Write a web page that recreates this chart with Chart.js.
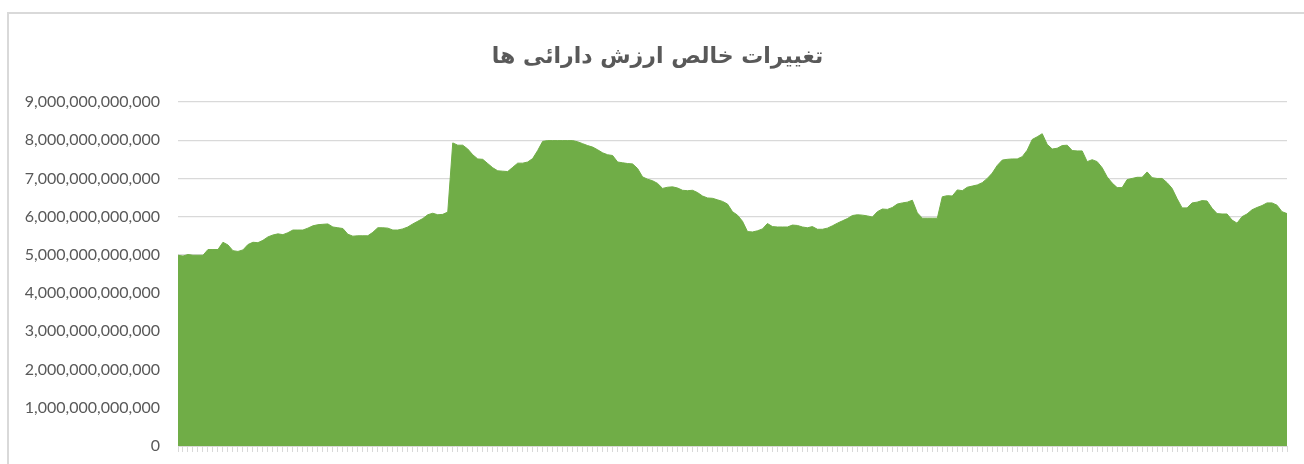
<!DOCTYPE html>
<html>
<head>
<meta charset="utf-8">
<script src="https://cdn.jsdelivr.net/npm/chart.js@4/dist/chart.umd.min.js"></script>
<style>
  html, body { margin: 0; padding: 0; background: #ffffff; width: 1304px; height: 464px; overflow: hidden; }
  #frame { position: absolute; left: 7px; top: 12px; width: 1320px; height: 500px; border: 2px solid #d9d9d9; box-sizing: border-box; }
  #c { position: absolute; left: 0; top: 0; }
</style>
</head>
<body>
<div id="frame"></div>
<canvas id="c" width="1304" height="464"></canvas>
<script>
// Chart title
const chartTitle = 'تغییرات خالص ارزش دارائی ها';

// Net asset value in trillions, one value per period
const netAssetTrillions = [
  4.99, 4.97, 5.01, 4.99, 4.99, 4.99, 5.14, 5.14, 5.14, 5.33,
  5.26, 5.11, 5.09, 5.13, 5.27, 5.33, 5.32, 5.38, 5.47, 5.52,
  5.55, 5.53, 5.58, 5.65, 5.65, 5.65, 5.70, 5.76, 5.79, 5.80,
  5.81, 5.73, 5.71, 5.69, 5.54, 5.49, 5.50, 5.50, 5.50, 5.59,
  5.71, 5.71, 5.70, 5.65, 5.65, 5.68, 5.73, 5.81, 5.88, 5.95,
  6.05, 6.09, 6.05, 6.06, 6.12, 7.93, 7.87, 7.87, 7.77, 7.62,
  7.51, 7.50, 7.39, 7.28, 7.20, 7.19, 7.18, 7.29, 7.40, 7.40,
  7.43, 7.52, 7.73, 7.97, 7.99, 7.99, 7.99, 7.99, 7.99, 7.99,
  7.96, 7.91, 7.86, 7.82, 7.75, 7.67, 7.62, 7.60, 7.43, 7.41,
  7.39, 7.38, 7.26, 7.04, 6.98, 6.94, 6.87, 6.74, 6.77, 6.78,
  6.75, 6.69, 6.68, 6.69, 6.63, 6.54, 6.49, 6.48, 6.44, 6.40,
  6.33, 6.13, 6.04, 5.88, 5.61, 5.60, 5.63, 5.68, 5.82, 5.74,
  5.73, 5.73, 5.73, 5.78, 5.77, 5.73, 5.71, 5.74, 5.67, 5.67,
  5.70, 5.76, 5.83, 5.89, 5.95, 6.03, 6.05, 6.04, 6.02, 5.99,
  6.13, 6.20, 6.19, 6.24, 6.33, 6.36, 6.38, 6.43, 6.10, 5.96,
  5.96, 5.96, 5.96, 6.52, 6.55, 6.54, 6.70, 6.68, 6.77, 6.80,
  6.83, 6.89, 7.00, 7.14, 7.34, 7.48, 7.50, 7.51, 7.51, 7.57,
  7.74, 8.02, 8.09, 8.17, 7.89, 7.77, 7.79, 7.86, 7.87, 7.73,
  7.72, 7.72, 7.44, 7.49, 7.44, 7.28, 7.04, 6.88, 6.76, 6.76,
  6.97, 7.00, 7.03, 7.03, 7.17, 7.02, 7.00, 7.00, 6.89, 6.74,
  6.47, 6.23, 6.23, 6.36, 6.38, 6.42, 6.41, 6.22, 6.08, 6.07,
  6.07, 5.91, 5.83, 6.00, 6.07, 6.18, 6.24, 6.29, 6.36, 6.36,
  6.30, 6.13, 6.08
];

// Categories: periods (unlabelled on the x axis)
const periods = netAssetTrillions.map((_, i) => String(i + 1));

// Y axis ticks
const yTickValues = [0, 1e12, 2e12, 3e12, 4e12, 5e12, 6e12, 7e12, 8e12, 9e12];

const netAssetValues = netAssetTrillions.map(v => v * 1e12);

new Chart(document.getElementById('c'), {
  type: 'line',
  data: {
    labels: periods,
    datasets: [{
      data: netAssetValues,
      backgroundColor: '#70ad47',
      borderColor: '#70ad47',
      borderWidth: 1,
      fill: 'origin',
      pointRadius: 0,
      tension: 0,
      yAxisID: 'y'
    }]
  },
  options: {
    responsive: false,
    animation: false,
    devicePixelRatio: 1,
    layout: { padding: { left: 14, right: 3, top: 0, bottom: 0 } },
    plugins: {
      legend: { display: false },
      tooltip: { enabled: false },
      title: {
        display: true,
        text: chartTitle,
        color: '#595959',
        font: { family: '"DejaVu Sans", "Noto Sans", sans-serif', size: 22, weight: 'bold', lineHeight: 1.2 },
        padding: { top: 44, bottom: 31.6 }
      }
    },
    scales: {
      x: {
        grid: { display: true, drawOnChartArea: false, drawTicks: true, tickLength: 6, color: '#d9d9d9' },
        border: { display: true, color: '#d9d9d9' },
        ticks: { display: true, autoSkip: false, maxRotation: 0, callback: () => '', padding: 0 },
        afterFit: (s) => { s.height = 18; }
      },
      y: {
        position: 'left',
        min: 0,
        max: 9e12,
        afterBuildTicks: (s) => { s.ticks = yTickValues.map(v => ({ value: v })); },
        grid: { color: '#d9d9d9', lineWidth: 1.3, drawTicks: false },
        border: { display: false },
        ticks: {
          color: '#595959',
          padding: 18,
          font: { family: 'Lato, "Open Sans", sans-serif', size: 16 },
          callback: (v) => Number(v).toLocaleString('en-US')
        },
        afterFit: (s) => { s.width = 164; s.paddingTop = 10; s.paddingBottom = 10; }
      },
      yRight: {
        position: 'right',
        display: true,
        min: 0,
        max: 9e12,
        grid: { display: false, drawTicks: false },
        border: { display: false },
        ticks: { display: false },
        afterFit: (s) => { s.width = 14; s.paddingTop = 0; s.paddingBottom = 0; }
      }
    }
  }
});
</script>
</body>
</html>
